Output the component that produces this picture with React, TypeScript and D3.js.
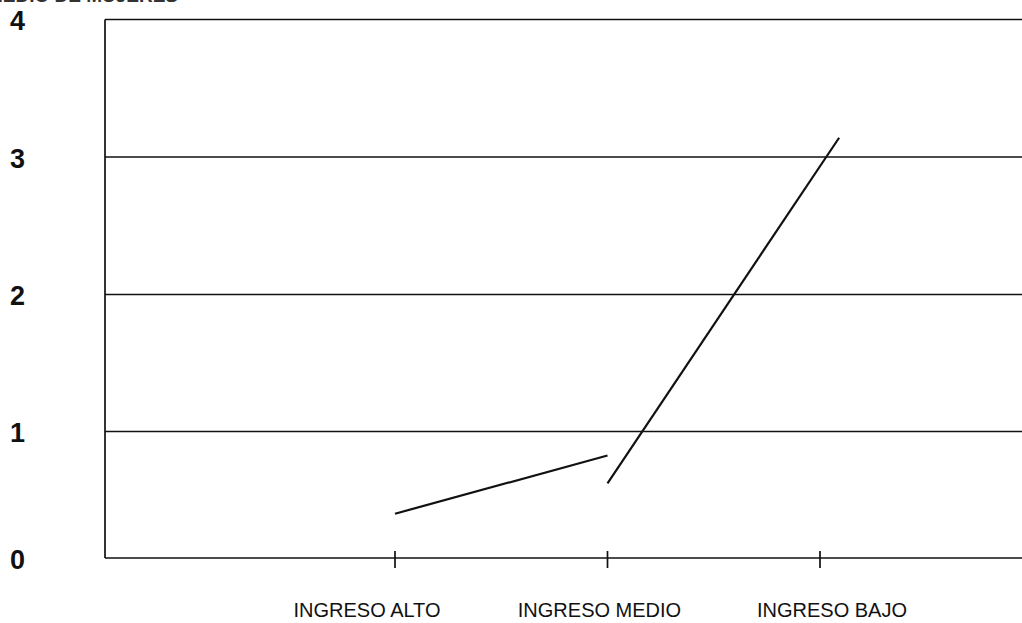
import React from "react";
import * as d3 from "d3";

const title = "PROMEDIO DE MUJERES";
const categories = ["INGRESO ALTO", "INGRESO MEDIO", "INGRESO BAJO"];
const yTicks = [0, 1, 2, 3, 4];
// two separate line segments (x in category index units)
const seriesAX = [0, 1];
const seriesAY = [0.35, 0.81];
const seriesBX = [1, 2.09];
const seriesBY = [0.59, 3.14];

const W = 1022;
const H = 623;
const left = 105;
const right = 1022;
const top = 19.5;
const bottom = 558;

export default function App() {
  // scanned axis: slightly uneven gridline spacing
  const y = d3
    .scaleLinear()
    .domain(yTicks)
    .range([bottom, 431.5, 294.5, 157, top]);
  const x = d3.scaleLinear().domain([0, 2]).range([395, 820]);

  const line = d3
    .line<[number, number]>()
    .x((d) => x(d[0]))
    .y((d) => y(d[1]));

  const a: [number, number][] = seriesAX.map((v, i) => [v, seriesAY[i]]);
  const b: [number, number][] = seriesBX.map((v, i) => [v, seriesBY[i]]);

  const font = "'Liberation Sans', Arial, sans-serif";

  return (
    <div style={{ position: "absolute", left: 0, top: 0 }}>
      <svg width={W} height={H} style={{ display: "block", background: "#fff" }}>
        <text
          x={178}
          y={2}
          textAnchor="end"
          fontFamily={font}
          fontWeight="bold"
          fontSize={19}
          fill="#333"
        >
          {title}
        </text>
        {/* gridlines */}
        {yTicks.map((t) => (
          <line
            key={t}
            x1={left}
            x2={right}
            y1={y(t)}
            y2={y(t)}
            stroke="#111"
            strokeWidth={1.7}
          />
        ))}
        {/* left axis */}
        <line x1={left} x2={left} y1={top} y2={bottom} stroke="#111" strokeWidth={1.7} />
        {/* y labels */}
        {yTicks.map((t) => (
          <text
            key={"l" + t}
            x={10}
            y={y(t)}
            dy="0.4em"
            fontFamily={font}
            fontWeight="bold"
            fontSize={27}
            fill="#111"
          >
            {t}
          </text>
        ))}
        {/* x ticks */}
        {categories.map((c, i) => (
          <line
            key={"t" + c}
            x1={x(i)}
            x2={x(i)}
            y1={bottom - 7}
            y2={bottom + 10}
            stroke="#111"
            strokeWidth={1.7}
          />
        ))}
        {/* x labels */}
        {categories.map((c, i) => (
          <text
            key={"c" + c}
            x={x(i) - 28 + i * 20}
            y={617}
            textAnchor="middle"
            fontFamily={font}
            fontSize={20}
            fill="#111"
          >
            {c}
          </text>
        ))}
        <path d={line(a) || ""} fill="none" stroke="#111" strokeWidth={2.2} />
        <path d={line(b) || ""} fill="none" stroke="#111" strokeWidth={2.2} />
      </svg>
    </div>
  );
}
